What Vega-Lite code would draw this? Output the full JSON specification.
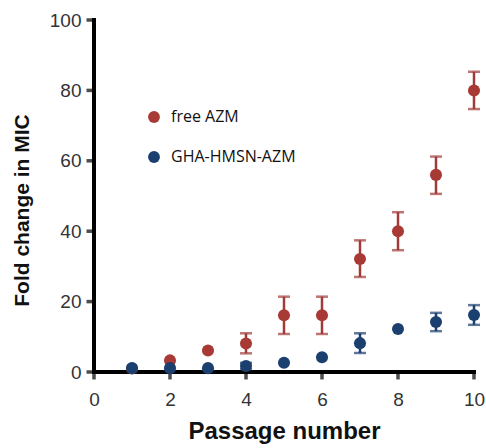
{
  "$schema": "https://vega.github.io/schema/vega-lite/v6.json",
  "width": 380,
  "height": 352,
  "autosize": {"type": "none"},
  "padding": {"left": 94, "top": 20, "right": 12, "bottom": 76},
  "background": "white",
  "config": {
    "view": {"stroke": null},
    "axis": {"grid": false, "domain": false, "ticks": false}
  },
  "datasets": {
    "pts": [
      {"passage": 1, "group": "free AZM", "mean": 1, "lo": null, "hi": null},
      {"passage": 2, "group": "free AZM", "mean": 3.3, "lo": null, "hi": null},
      {"passage": 3, "group": "free AZM", "mean": 6.1, "lo": null, "hi": null},
      {"passage": 4, "group": "free AZM", "mean": 8.1, "lo": 5.3, "hi": 11},
      {"passage": 5, "group": "free AZM", "mean": 16.1, "lo": 10.8, "hi": 21.4},
      {"passage": 6, "group": "free AZM", "mean": 16.1, "lo": 10.8, "hi": 21.4},
      {"passage": 7, "group": "free AZM", "mean": 32.1, "lo": 27, "hi": 37.4},
      {"passage": 8, "group": "free AZM", "mean": 40, "lo": 34.6, "hi": 45.4},
      {"passage": 9, "group": "free AZM", "mean": 56, "lo": 50.6, "hi": 61.2},
      {"passage": 10, "group": "free AZM", "mean": 80, "lo": 74.7, "hi": 85.3},
      {"passage": 1, "group": "GHA-HMSN-AZM", "mean": 1.1, "lo": null, "hi": null},
      {"passage": 2, "group": "GHA-HMSN-AZM", "mean": 1.1, "lo": null, "hi": null},
      {"passage": 3, "group": "GHA-HMSN-AZM", "mean": 1.1, "lo": null, "hi": null},
      {"passage": 4, "group": "GHA-HMSN-AZM", "mean": 1.7, "lo": 0.8, "hi": 2.6},
      {"passage": 5, "group": "GHA-HMSN-AZM", "mean": 2.6, "lo": null, "hi": null},
      {"passage": 6, "group": "GHA-HMSN-AZM", "mean": 4.2, "lo": null, "hi": null},
      {"passage": 7, "group": "GHA-HMSN-AZM", "mean": 8.2, "lo": 5.4, "hi": 11},
      {"passage": 8, "group": "GHA-HMSN-AZM", "mean": 12.2, "lo": null, "hi": null},
      {"passage": 9, "group": "GHA-HMSN-AZM", "mean": 14.2, "lo": 11.6, "hi": 16.8},
      {"passage": 10, "group": "GHA-HMSN-AZM", "mean": 16.2, "lo": 13.4, "hi": 19}
    ],
    "xticks": [{"v": 0}, {"v": 2}, {"v": 4}, {"v": 6}, {"v": 8}, {"v": 10}],
    "yticks": [{"v": 0}, {"v": 20}, {"v": 40}, {"v": 60}, {"v": 80}, {"v": 100}]
  },
  "data": {"name": "pts"},
  "layer": [
    {
      "data": {"name": "xticks"},
      "mark": {"type": "tick", "orient": "vertical", "thickness": 3.5, "size": 7, "yOffset": 4, "color": "black"},
      "encoding": {
        "x": {"field": "v", "type": "quantitative"},
        "y": {"datum": 0, "type": "quantitative"}
      }
    },
    {
      "data": {"name": "yticks"},
      "mark": {"type": "tick", "orient": "horizontal", "thickness": 3.5, "size": 7, "xOffset": -4, "color": "black"},
      "encoding": {
        "y": {"field": "v", "type": "quantitative"},
        "x": {"datum": 0, "type": "quantitative"}
      }
    },
    {
      "data": {"values": [{"a": 1}]},
      "mark": {"type": "rule", "strokeWidth": 4, "color": "black", "strokeCap": "square"},
      "encoding": {
        "x": {"datum": 0, "type": "quantitative"},
        "y": {"datum": 0, "type": "quantitative"},
        "y2": {"datum": 100}
      }
    },
    {
      "data": {"values": [{"a": 1}]},
      "mark": {"type": "rule", "strokeWidth": 4, "color": "black", "strokeCap": "square"},
      "encoding": {
        "y": {"datum": 0, "type": "quantitative"},
        "x": {"datum": 0, "type": "quantitative"},
        "x2": {"datum": 10}
      }
    },
    {
      "transform": [{"filter": "datum.group === 'free AZM'"}],
      "layer": [
        {
          "mark": {"type": "rule", "strokeWidth": 2.5, "color": "#A03B38"},
          "encoding": {
            "x": {"field": "passage", "type": "quantitative"},
            "y": {"field": "lo", "type": "quantitative"},
            "y2": {"field": "hi"}
          }
        },
        {
          "mark": {"type": "tick", "orient": "horizontal", "thickness": 2.5, "size": 12, "color": "#A03B38"},
          "encoding": {
            "x": {"field": "passage", "type": "quantitative"},
            "y": {"field": "lo", "type": "quantitative"}
          }
        },
        {
          "mark": {"type": "tick", "orient": "horizontal", "thickness": 2.5, "size": 12, "color": "#A03B38"},
          "encoding": {
            "x": {"field": "passage", "type": "quantitative"},
            "y": {"field": "hi", "type": "quantitative"}
          }
        }
      ]
    },
    {
      "transform": [{"filter": "datum.group === 'GHA-HMSN-AZM'"}],
      "layer": [
        {
          "mark": {"type": "rule", "strokeWidth": 2.5, "color": "#1B3F6E"},
          "encoding": {
            "x": {"field": "passage", "type": "quantitative"},
            "y": {"field": "lo", "type": "quantitative"},
            "y2": {"field": "hi"}
          }
        },
        {
          "mark": {"type": "tick", "orient": "horizontal", "thickness": 2.5, "size": 12, "color": "#1B3F6E"},
          "encoding": {
            "x": {"field": "passage", "type": "quantitative"},
            "y": {"field": "lo", "type": "quantitative"}
          }
        },
        {
          "mark": {"type": "tick", "orient": "horizontal", "thickness": 2.5, "size": 12, "color": "#1B3F6E"},
          "encoding": {
            "x": {"field": "passage", "type": "quantitative"},
            "y": {"field": "hi", "type": "quantitative"}
          }
        }
      ]
    },
    {
      "mark": {"type": "point", "filled": true, "opacity": 1, "size": 145, "shape": "circle"},
      "encoding": {
        "x": {
          "field": "passage", "type": "quantitative",
          "scale": {"domain": [0, 10], "nice": false},
          "axis": {
            "title": "Passage number", "values": [0, 2, 4, 6, 8, 10], "grid": false, "domain": false, "ticks": false,
            "labelFont": "Liberation Sans", "labelFontSize": 19, "labelColor": "#333", "labelPadding": 18,
            "labelFlush": false,
            "titleFont": "Liberation Sans", "titleFontSize": 24, "titleFontWeight": "bold", "titleColor": "#111", "titlePadding": 10
          }
        },
        "y": {
          "field": "mean", "type": "quantitative",
          "scale": {"domain": [0, 100], "nice": false},
          "axis": {
            "title": "Fold change in MIC", "values": [0, 20, 40, 60, 80, 100], "grid": false, "domain": false, "ticks": false,
            "labelFont": "Liberation Sans", "labelFontSize": 19, "labelColor": "#333", "labelPadding": 13,
            "labelFlush": false, "titleY": 190,
            "titleFont": "Liberation Sans", "titleFontSize": 21, "titleFontWeight": "bold", "titleColor": "#111", "titlePadding": 17
          }
        },
        "color": {
          "field": "group", "type": "nominal",
          "scale": {"domain": ["free AZM", "GHA-HMSN-AZM"], "range": ["#A83A36", "#1B3F6E"]},
          "legend": {
            "title": null, "orient": "none", "legendX": 52, "legendY": 89,
            "symbolType": "circle", "symbolSize": 140, "symbolStrokeWidth": 0, "symbolOpacity": 1,
            "labelFont": "Open Sans", "labelFontSize": 16, "labelColor": "#111", "labelOffset": 9,
            "rowPadding": 24
          }
        }
      }
    }
  ]
}
